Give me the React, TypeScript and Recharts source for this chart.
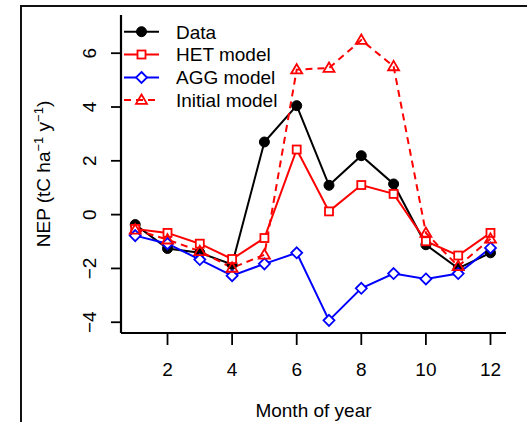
import React from 'react';
import { LineChart, Line, XAxis, YAxis } from 'recharts';

const months = [1, 2, 3, 4, 5, 6, 7, 8, 9, 10, 11, 12];
const dataValues = [-0.37, -1.26, -1.42, -1.85, 2.7, 4.05, 1.09, 2.19, 1.14, -1.12, -2.0, -1.42];
const hetValues = [-0.53, -0.68, -1.08, -1.65, -0.87, 2.42, 0.12, 1.1, 0.77, -0.99, -1.52, -0.68];
const aggValues = [-0.78, -1.08, -1.67, -2.27, -1.83, -1.42, -3.93, -2.74, -2.19, -2.39, -2.19, -1.24];
const initialValues = [-0.56, -0.93, -1.36, -1.98, -1.49, 5.39, 5.45, 6.49, 5.51, -0.68, -1.92, -0.9];
const xTicks = [2, 4, 6, 8, 10, 12];
const yTicks = [-4, -2, 0, 2, 4, 6];
const seriesNames = ['Data', 'HET model', 'AGG model', 'Initial model'];

const X_DOMAIN: [number, number] = [0.56, 12.48];
const Y_DOMAIN: [number, number] = [-4.4, 7.42];
const FONT = '"Liberation Sans", Arial, Helvetica, sans-serif';
const FS = 19;

const rows = months.map((m, i) => ({
  month: m,
  data: dataValues[i],
  het: hetValues[i],
  agg: aggValues[i],
  initial: initialValues[i],
}));

type Kind = 'circle' | 'square' | 'diamond' | 'triangle';

const series = [
  { key: 'data', name: seriesNames[0], color: '#000000', kind: 'circle' as Kind, dash: undefined as string | undefined },
  { key: 'het', name: seriesNames[1], color: '#ff0000', kind: 'square' as Kind, dash: undefined },
  { key: 'agg', name: seriesNames[2], color: '#0000ff', kind: 'diamond' as Kind, dash: undefined },
  { key: 'initial', name: seriesNames[3], color: '#ff0000', kind: 'triangle' as Kind, dash: '7 5' },
];

function marker(kind: Kind, color: string, cx: number, cy: number, key?: string) {
  if (kind === 'circle') {
    return <circle key={key} cx={cx} cy={cy} r={5} fill={color} stroke={color} strokeWidth={1} />;
  }
  if (kind === 'square') {
    const s = 8;
    return <rect key={key} x={cx - s / 2} y={cy - s / 2} width={s} height={s} fill="#ffffff" stroke={color} strokeWidth={1.8} />;
  }
  if (kind === 'diamond') {
    const d = 5.5;
    return (
      <polygon key={key} points={`${cx},${cy - d} ${cx + d},${cy} ${cx},${cy + d} ${cx - d},${cy}`}
        fill="#ffffff" stroke={color} strokeWidth={1.8} />
    );
  }
  const h = 5.5;
  return (
    <polygon key={key} points={`${cx},${cy - h} ${cx + 5.5},${cy + h * 0.7} ${cx - 5.5},${cy + h * 0.7}`}
      fill="none" stroke={color} strokeWidth={1.8} />
  );
}

const XTick = (props: any) => {
  const { x, y, payload } = props;
  return (
    <text x={x} y={y + 31} textAnchor="middle" fontFamily={FONT} fontSize={FS} fill="#000">
      {payload.value}
    </text>
  );
};

const YTick = (props: any) => {
  const { x, y, payload } = props;
  const bx = x - 15;
  const label = payload.value < 0 ? `\u2212${Math.abs(payload.value)}` : `${payload.value}`;
  return (
    <text x={bx} y={y} transform={`rotate(-90 ${bx} ${y})`} textAnchor="middle" fontFamily={FONT} fontSize={FS} fill="#000">
      {label}
    </text>
  );
};

const LegendOverlay = () => {
  const rowY = [31.7, 54.5, 77.5, 100];
  return (
    <svg width={360} height={120} style={{ position: 'absolute', left: 0, top: 0, overflow: 'visible', pointerEvents: 'none' }}>
      {series.map((s, i) => (
        <g key={s.key}>
          <line x1={124} x2={159} y1={rowY[i]} y2={rowY[i]} stroke={s.color} strokeWidth={2} strokeDasharray={s.dash} />
          {marker(s.kind, s.color, 141.5, rowY[i])}
          <text x={176} y={rowY[i] + 6.8} fontFamily={FONT} fontSize={FS} fill="#000">{s.name}</text>
        </g>
      ))}
    </svg>
  );
};

export default function App() {
  return (
    <div style={{ position: 'absolute', left: 0, top: 0, width: 527, height: 422, background: '#fff', overflow: 'hidden' }}>
      <div style={{ position: 'absolute', left: 20, top: 5, width: 600, height: 500, borderLeft: '2px solid #111', borderTop: '2px solid #111' }} />
      <div style={{ position: 'absolute', left: 0, top: 0 }}>
        <LineChart width={527} height={422} data={rows} margin={{ top: 15, right: 21, bottom: 0, left: 0 }}>
          <XAxis
            dataKey="month"
            type="number"
            domain={X_DOMAIN}
            allowDataOverflow
            ticks={xTicks}
            interval={0}
            height={89}
            axisLine={{ stroke: '#000', strokeWidth: 2.2 }}
            tickSize={12}
            tickMargin={0}
            tickLine={{ stroke: '#000', strokeWidth: 1.8 }}
            tick={<XTick />}
            label={{
              content: (p: any) => {
                const vb = p.viewBox || { x: 121, y: 333, width: 385, height: 89 };
                return (
                  <text x={vb.x + vb.width / 2} y={vb.y + vb.height - 5} textAnchor="middle" fontFamily={FONT} fontSize={FS} fill="#000">
                    Month of year
                  </text>
                );
              },
            }}
          />
          <XAxis
            xAxisId="top"
            orientation="top"
            dataKey="month"
            type="number"
            domain={X_DOMAIN}
            allowDataOverflow
            height={0}
            tick={false}
            tickLine={false}
            axisLine={{ stroke: '#000', strokeWidth: 2.2 }}
          />
          <YAxis
            type="number"
            domain={Y_DOMAIN}
            allowDataOverflow
            ticks={yTicks}
            interval={0}
            width={121}
            axisLine={{ stroke: '#000', strokeWidth: 2.2 }}
            tickSize={10}
            tickMargin={0}
            tickLine={{ stroke: '#000', strokeWidth: 1.8 }}
            tick={<YTick />}
            label={{
              content: (p: any) => {
                const vb = p.viewBox || { x: 0, y: 15, width: 121, height: 318 };
                const cx = 50;
                const cy = vb.y + vb.height / 2;
                return (
                  <text x={cx} y={cy} transform={`rotate(-90 ${cx} ${cy})`} textAnchor="middle" fontFamily={FONT} fontSize={FS} fill="#000">
                    NEP (tC ha
                    <tspan fontSize={13} dy={-7}>{'\u22121'}</tspan>
                    <tspan dy={7}> y</tspan>
                    <tspan fontSize={13} dy={-7}>{'\u22121'}</tspan>
                    <tspan dy={7}>)</tspan>
                  </text>
                );
              },
            }}
          />
          <YAxis
            yAxisId="right"
            orientation="right"
            type="number"
            domain={Y_DOMAIN}
            allowDataOverflow
            width={0}
            tick={false}
            tickLine={false}
            axisLine={{ stroke: '#000', strokeWidth: 2.2 }}
          />
          {series.map((s) => (
            <Line
              key={s.key}
              dataKey={s.key}
              name={s.name}
              type="linear"
              stroke={s.color}
              strokeWidth={2}
              strokeDasharray={s.dash}
              isAnimationActive={false}
              dot={(p: any) => marker(s.kind, s.color, p.cx, p.cy, `${s.key}-${p.index}`)}
              activeDot={false}
            />
          ))}
        </LineChart>
      </div>
      <LegendOverlay />
    </div>
  );
}
